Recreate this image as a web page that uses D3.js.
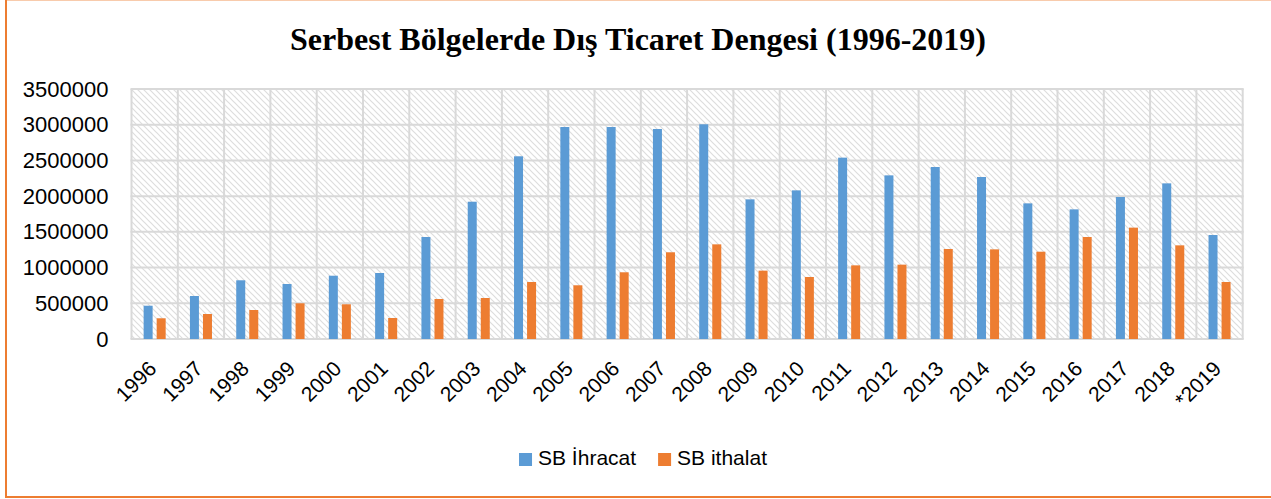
<!DOCTYPE html>
<html>
<head>
<meta charset="utf-8">
<script src="https://cdn.jsdelivr.net/npm/d3@7"></script>
<style>
    body { margin: 0; background: #fff; }
    .ticklabel { font-family: "Liberation Sans", Arial, sans-serif; font-size: 21px; fill: #000; }
    .ylabel { font-size: 22px; }
    .title { font-family: "Liberation Serif", "Times New Roman", serif; font-size: 32px; font-weight: bold; }
</style>
</head>
<body>
<div id="chart"></div>
<script>

var w = 1271,
    h = 499;

// chart data
var years = ["1996", "1997", "1998", "1999", "2000", "2001", "2002", "2003",
             "2004", "2005", "2006", "2007", "2008", "2009", "2010", "2011",
             "2012", "2013", "2014", "2015", "2016", "2017", "2018", "*2019"];

var ihracat = [466000, 602000, 822000, 770000, 886000, 924000, 1428000, 1922000,
               2558000, 2968000, 2968000, 2940000, 3006000, 1955000, 2081000, 2539000,
               2291000, 2408000, 2268000, 1899000, 1815000, 1988000, 2179000, 1456000];

var ithalat = [290000, 350000, 406000, 500000, 486000, 294000, 560000, 574000,
               798000, 752000, 934000, 1214000, 1325000, 957000, 868000, 1031000,
               1041000, 1260000, 1255000, 1222000, 1428000, 1559000, 1311000, 798000];

var series = ["SB İhracat", "SB ithalat"];

var yticks = [0, 500000, 1000000, 1500000, 2000000, 2500000, 3000000, 3500000];

var colors = {"SB İhracat": "#5B9BD5", "SB ithalat": "#ED7D31"};

// plot area (not named top/left: window.top is read only)
var plot_left = 131.5,
    plot_right = 1242.7,
    plot_top = 89,
    plot_bottom = 339;

var svg = d3.select("#chart").append("svg")
    .attr("width", w)
    .attr("height", h);

// outer orange frame
svg.append("rect")
    .attr("x", 6)
    .attr("y", -0.6)
    .attr("width", 1400)
    .attr("height", 497.6)
    .attr("fill", "none")
    .attr("stroke", "#ED7D31")
    .attr("stroke-width", 2);

// hatch pattern for plot background
var defs = svg.append("defs");

var hatch = defs.append("pattern")
    .attr("id", "hatch")
    .attr("patternUnits", "userSpaceOnUse")
    .attr("width", 6)
    .attr("height", 6);

hatch.append("path")
    .attr("d", "M0,0 L6,6 M-1,5 L1,7 M5,-1 L7,1")
    .attr("stroke", "#dddddd")
    .attr("stroke-width", 1.2);

// scales
var x0 = d3.scaleBand()
    .domain(years)
    .range([plot_left, plot_right]);

var x1 = d3.scaleBand()
    .domain(series)
    .range([x0.bandwidth() * 0.262, x0.bandwidth() * 0.738])
    .paddingInner(0.31);

var y = d3.scaleLinear()
    .domain([0, 3500000])
    .range([plot_bottom, plot_top]);

svg.append("rect")
    .attr("x", plot_left)
    .attr("y", plot_top)
    .attr("width", plot_right - plot_left)
    .attr("height", plot_bottom - plot_top)
    .attr("fill", "url(#hatch)");

// horizontal gridlines
svg.append("g")
    .selectAll("line")
    .data(yticks)
    .enter().append("line")
        .attr("x1", plot_left - 1)
        .attr("x2", plot_right + 1)
        .attr("y1", function(d) { return y(d); })
        .attr("y2", function(d) { return y(d); })
        .attr("stroke", "#d9d9d9")
        .attr("stroke-width", 2);

// vertical gridlines at category borders
var borders = years.map(function(d) { return x0(d); }).concat([plot_right]);

svg.append("g")
    .selectAll("line")
    .data(borders)
    .enter().append("line")
        .attr("x1", function(d) { return d; })
        .attr("x2", function(d) { return d; })
        .attr("y1", plot_top)
        .attr("y2", plot_bottom)
        .attr("stroke", "#d9d9d9")
        .attr("stroke-width", 2);

// y axis labels
var yaxis = svg.append("g")
    .attr("transform", "translate(" + plot_left + ",0)")
    .call(d3.axisLeft(y).tickValues(yticks).tickSize(0).tickPadding(23).tickFormat(d3.format("d")));

yaxis.select(".domain").remove();
yaxis.attr("font-family", null).attr("font-size", null);
yaxis.selectAll("text")
    .attr("class", "ticklabel ylabel");

// bars
var rows = years.map(function(yr, i) {
    return {year: yr, values: [
        {key: series[0], value: ihracat[i]},
        {key: series[1], value: ithalat[i]}
    ]};
});

svg.append("g")
    .selectAll("g")
    .data(rows)
    .enter().append("g")
        .attr("transform", function(d) { return "translate(" + x0(d.year) + ",0)"; })
    .selectAll("rect")
    .data(function(d) { return d.values; })
    .enter().append("rect")
        .attr("x", function(d) { return x1(d.key); })
        .attr("width", x1.bandwidth())
        .attr("y", function(d) { return y(d.value); })
        .attr("height", function(d) { return plot_bottom - y(d.value); })
        .attr("fill", function(d) { return colors[d.key]; });

// rotated year labels
svg.append("g")
    .selectAll("text")
    .data(years)
    .enter().append("text")
        .attr("class", "ticklabel")
        .attr("text-anchor", "end")
        .attr("transform", function(d) {
            return "translate(" + (x0(d) + x0.bandwidth() / 2 + 3) + ",370) rotate(-45)";
        })
        .text(function(d) { return d; });

// title
svg.append("text")
    .attr("class", "title")
    .attr("x", 638)
    .attr("y", 50)
    .attr("text-anchor", "middle")
    .text("Serbest Bölgelerde Dış Ticaret Dengesi (1996-2019)");

// legend
var legend = svg.append("g");

var items = legend.selectAll("g")
    .data(series)
    .enter().append("g");

items.append("rect")
    .attr("width", 13)
    .attr("height", 13)
    .attr("y", 453)
    .attr("fill", function(d) { return colors[d]; });

items.append("text")
    .attr("class", "ticklabel")
    .attr("x", 19)
    .attr("y", 465)
    .text(function(d) { return d; });

// lay out legend items and center them
var pos = 0;
items.each(function() {
    var tw = d3.select(this).select("text").node().getComputedTextLength();
    d3.select(this).attr("transform", "translate(" + pos + ",0)");
    pos += 19 + tw + 22;
});
pos -= 22;
legend.attr("transform", "translate(" + (643 - pos / 2) + ",0)");

</script>
</body>
</html>
